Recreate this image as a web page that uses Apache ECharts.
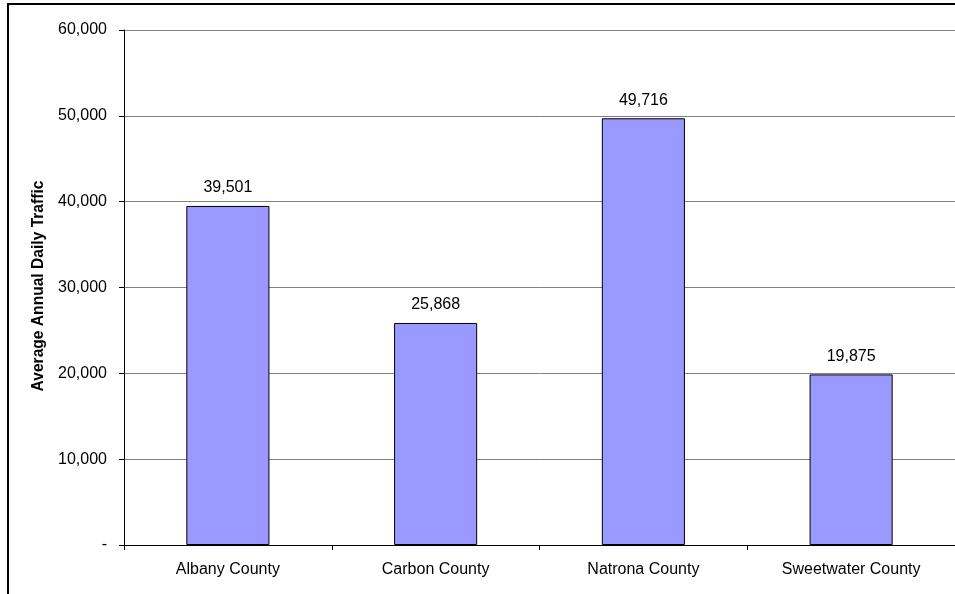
<!DOCTYPE html>
<html>
<head>
<meta charset="utf-8">
<script src="https://cdn.jsdelivr.net/npm/echarts@6/dist/echarts.min.js"></script>
<style>
html,body{margin:0;padding:0;background:#fff;}
#c{width:955px;height:594px;}
</style>
</head>
<body>
<div id="c"></div>
<script>
var categories = ['Albany County', 'Carbon County', 'Natrona County', 'Sweetwater County'];
var traffic = [39501, 25868, 49716, 19875];
var yTitle = 'Average Annual Daily Traffic';

var FONT = '"Liberation Sans", Arial, sans-serif';
function fmt(v) {
  if (v === 0) return '-';
  return v.toLocaleString('en-US');
}

var chart = echarts.init(document.getElementById('c'), null, {renderer: 'canvas'});
chart.setOption({
  animation: false,
  backgroundColor: '#ffffff',
  grid: {left: 124, top: 30, width: 832, bottom: 49, containLabel: false},
  graphic: [
    {type: 'rect', z: 100, shape: {x: 8, y: 4, width: 1200, height: 1200},
     style: {fill: 'none', stroke: '#000', lineWidth: 2}},
    {type: 'text', z: 100, x: 39, y: 286, rotation: Math.PI / 2,
     style: {text: yTitle, font: 'bold 15.6px ' + FONT, fill: '#000',
             textAlign: 'center', textVerticalAlign: 'middle'}}
  ],
  xAxis: {
    type: 'category',
    data: categories,
    axisLine: {show: true, lineStyle: {color: '#000', width: 1}},
    axisTick: {show: true, alignWithLabel: false, length: 5, lineStyle: {color: '#000'}},
    axisLabel: {color: '#000', fontSize: 16, fontFamily: FONT, margin: 17},
    splitLine: {show: false}
  },
  yAxis: {
    type: 'value',
    min: 0, max: 60000, interval: 10000,
    axisLine: {show: true, lineStyle: {color: '#000', width: 1}},
    axisTick: {show: true, length: 5, lineStyle: {color: '#000'}},
    axisLabel: {color: '#000', fontSize: 16, fontFamily: FONT, margin: 17, formatter: fmt},
    splitLine: {show: true, lineStyle: {color: '#808080', width: 1}}
  },
  series: [{
    type: 'bar',
    data: traffic,
    barWidth: '40%',
    itemStyle: {color: '#9999FF', borderColor: '#000', borderWidth: 1},
    label: {show: true, position: 'top', distance: 10, color: '#000',
            fontSize: 16, fontFamily: FONT, formatter: function(p){ return fmt(p.value); }}
  }]
});
</script>
</body>
</html>
